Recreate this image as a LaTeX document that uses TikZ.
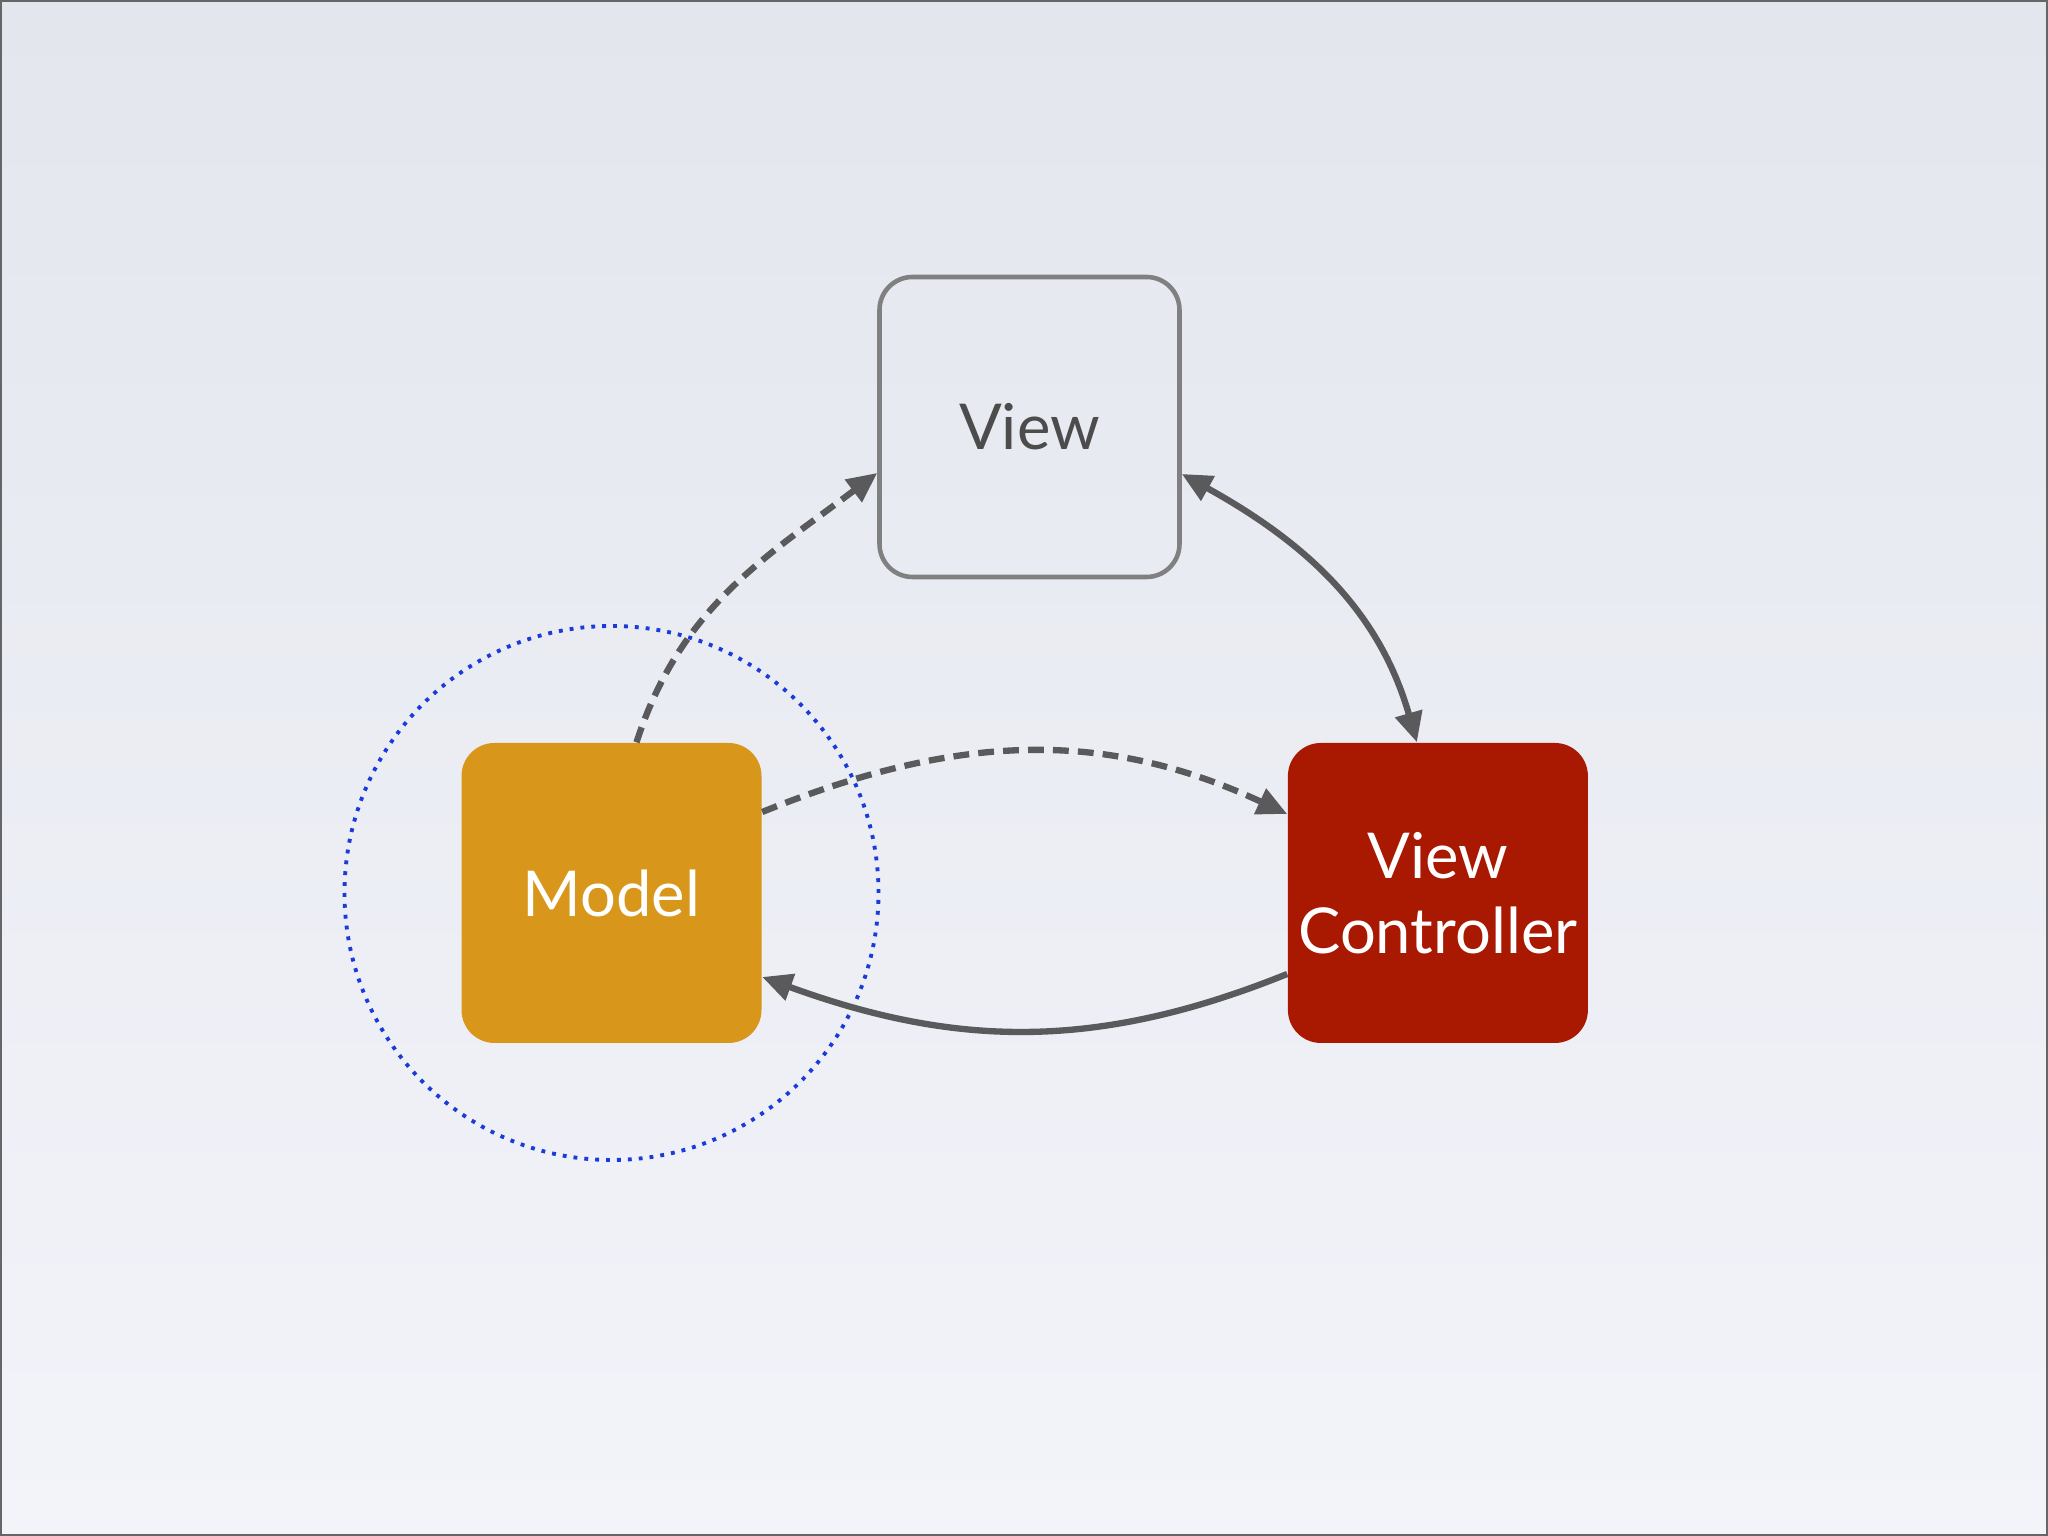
\documentclass[tikz,border=0pt]{standalone}
\usepackage{fontspec}
\setmainfont{Lato}
\usepackage{tikz}
\usetikzlibrary{shapes.geometric, arrows.meta, calc, positioning}
\definecolor{BgTop}{HTML}{E3E6ED}
\definecolor{BgBottom}{HTML}{F3F4FA}
\definecolor{ModelColor}{HTML}{D8961A}
\definecolor{ControllerColor}{HTML}{A91800}
\definecolor{LineColor}{HTML}{5A5A5C}
\definecolor{CircleColor}{HTML}{1A3ADB}
\tikzstyle{box} = [rectangle, rounded corners=0.33cm, minimum width=3cm, minimum height=3cm, inner sep=1pt, text centered, align=center, font=\fontsize{18}{21.5}\selectfont]
\tikzstyle{viewbox} = [box, draw=gray, line width=1.3pt, text=black!70]
\tikzstyle{arrow} = [line width=1.8pt, draw=LineColor, -{Triangle[length=3mm, width=2.7mm]}]
\tikzstyle{dasharrow} = [arrow, dash pattern=on 4.5pt off 2.6pt]

\begin{document}
\begin{tikzpicture}[node distance = 10mm, auto]
	\useasboundingbox (0,0) rectangle (20.48,15.36);
	\shade[top color=BgTop, bottom color=BgBottom] (0,0) rectangle (20.48,15.36);
	\draw[gray!80!black, line width=0.6pt] (0.01,0.01) rectangle (20.47,15.35);
	\node (Model) [box, fill=ModelColor, text=white] at (6.115,6.43) {Model};
	\node (ViewController) [box, fill=ControllerColor, text=white, right = 5.25cm of Model] {View\\Controller};
	\node (View) [viewbox] at (10.295,11.09) {View};
	\draw [CircleColor, line width=1.1pt, dash pattern=on 1.1pt off 2pt] (Model.center) circle (2.67cm);
	\draw [dasharrow] ([xshift=0.25cm]Model.north) to[out=72, in=217] ([yshift=-0.46cm]View.west);
	\draw [arrow, {Triangle[length=3mm, width=2.7mm]}-{Triangle[length=3mm, width=2.7mm]}] ([yshift=-0.47cm]View.east) to[out=-29, in=106] ([xshift=-0.21cm]ViewController.north);
	\draw [dasharrow] ([yshift=0.81cm]Model.east) to[out=22, in=155] ([yshift=0.79cm]ViewController.west);
	\draw [arrow] ([yshift=-0.81cm]ViewController.west) to[out=-158, in=-20] ([yshift=-0.84cm]Model.east);
\end{tikzpicture}
\end{document}
